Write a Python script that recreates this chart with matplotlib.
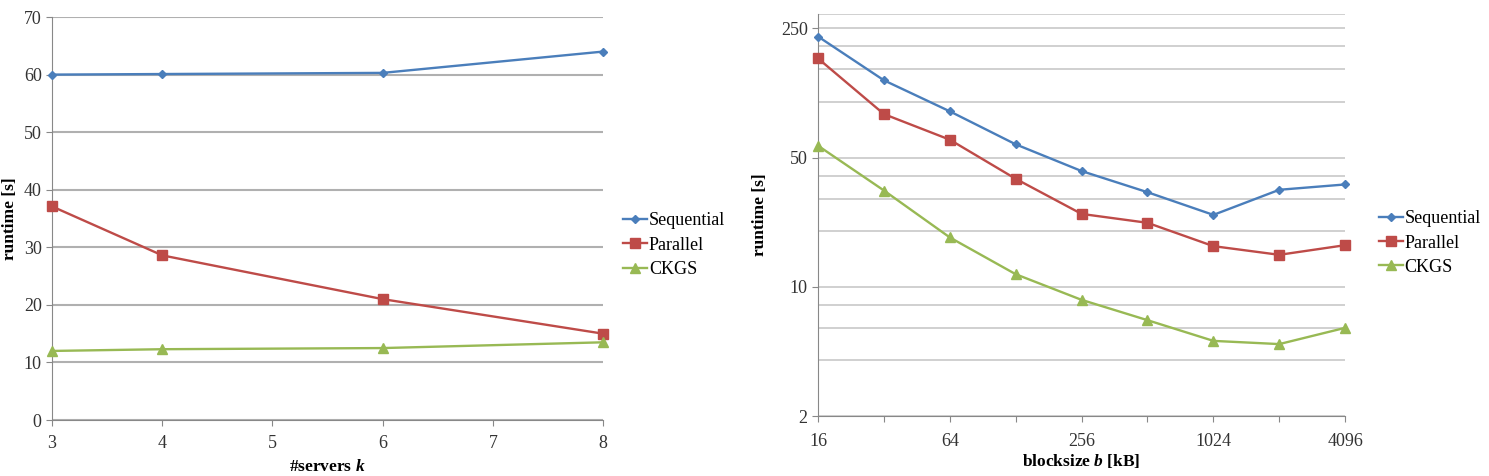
import matplotlib
matplotlib.use('Agg')
import matplotlib.pyplot as plt
from matplotlib.ticker import FixedLocator, FixedFormatter, NullFormatter

plt.rcParams['font.family'] = ['Liberation Serif', 'DejaVu Serif']
plt.rcParams['mathtext.fontset'] = 'custom'
plt.rcParams['mathtext.bfit'] = 'Liberation Serif:bold:italic'

# left chart: runtime vs number of servers
servers = [3, 4, 6, 8]
seq_k = [60.0, 60.1, 60.3, 64.0]
par_k = [37.1, 28.6, 21.0, 15.0]
ckgs_k = [12.0, 12.3, 12.5, 13.5]

# right chart: runtime vs blocksize (log scales)
blocks = [16, 32, 64, 128, 256, 512, 1024, 2048, 4096]
seq_b = [226, 131, 89, 59, 42.3, 32.5, 24.5, 33.5, 35.8]
par_b = [172, 86, 62.5, 38.4, 24.8, 22.2, 16.6, 14.9, 16.8]
ckgs_b = [58, 33.2, 18.5, 11.7, 8.5, 6.6, 5.1, 4.9, 6.0]

names = ['Sequential', 'Parallel', 'CKGS']
colors = ['#4A7EBB', '#BE4B48', '#98B954']
markers = ['D', 's', '^']
msizes = [4.5, 6.5, 6.5]

axis_col = '#888888'
fs = 13

fig = plt.figure(figsize=(14.89, 4.76), dpi=100)
ax1 = fig.add_axes([0.035, 0.1176, 0.37, 0.8466])
ax2 = fig.add_axes([0.5494, 0.126, 0.354, 0.845])

for ys, c, m, ms, n in zip([seq_k, par_k, ckgs_k], colors, markers, msizes, names):
    ax1.plot(servers, ys, color=c, marker=m, markersize=ms, lw=1.7, label=n, clip_on=False, zorder=3)

ax1.set_xlim(3, 8)
ax1.set_ylim(0, 70)
ax1.set_xticks([3, 4, 5, 6, 7, 8])
ax1.set_yticks(range(0, 71, 10))
ax1.yaxis.grid(True, color='#b0b0b0', lw=1.5)
ax1.set_axisbelow(True)
for s in ['top', 'right']:
    ax1.spines[s].set_visible(False)
for s in ['left', 'bottom']:
    ax1.spines[s].set_color(axis_col)
ax1.tick_params(colors=axis_col, labelcolor='#333333', labelsize=fs, length=4, direction='out')
ax1.tick_params(axis='x', pad=7)
ax1.set_ylabel('runtime [s]', fontweight='bold', fontsize=12.5, labelpad=4)
ax1.set_xlabel('#servers $\\mathbfit{k}$', fontweight='bold', fontsize=12.5, labelpad=5)
ax1.legend(loc='center left', bbox_to_anchor=(1.024, 0.434), borderaxespad=0, frameon=False,
           fontsize=fs, handlelength=1.3, handletextpad=0.1, labelspacing=0.4)

for ys, c, m, ms, n in zip([seq_b, par_b, ckgs_b], colors, markers, msizes, names):
    ax2.plot(blocks, ys, color=c, marker=m, markersize=ms, lw=1.7, label=n, clip_on=False, zorder=3)

ax2.set_xscale('log', base=2)
ax2.set_yscale('log', base=5)
ax2.set_xlim(16, 4096)
ax2.set_ylim(2, 300)
ax2.xaxis.set_major_locator(FixedLocator(blocks))
ax2.xaxis.set_major_formatter(FixedFormatter(['16', '', '64', '', '256', '', '1024', '', '4096']))
ax2.xaxis.set_minor_locator(FixedLocator([]))
ax2.yaxis.set_major_locator(FixedLocator([2, 10, 50, 250]))
ax2.yaxis.set_major_formatter(FixedFormatter(['2', '10', '50', '250']))
ax2.yaxis.set_minor_locator(FixedLocator([4, 6, 8, 20, 30, 40, 100, 150, 200, 300]))
ax2.yaxis.set_minor_formatter(NullFormatter())
ax2.yaxis.grid(True, which='both', color='#c8c8c8', lw=1.2)
ax2.set_axisbelow(True)
for s in ['top', 'right']:
    ax2.spines[s].set_visible(False)
for s in ['left', 'bottom']:
    ax2.spines[s].set_color(axis_col)
ax2.tick_params(which='both', colors=axis_col, labelcolor='#333333', labelsize=fs, direction='out')
ax2.tick_params(which='major', length=4)
ax2.tick_params(axis='x', pad=8)
ax2.tick_params(axis='y', which='minor', length=0)
ax2.set_ylabel('runtime [s]', fontweight='bold', fontsize=12.5, labelpad=9)
ax2.set_xlabel('blocksize $\\mathbfit{b}$ [kB]', fontweight='bold', fontsize=12.5, labelpad=2)
ax2.legend(loc='center left', bbox_to_anchor=(1.051, 0.43), borderaxespad=0, frameon=False,
           fontsize=fs, handlelength=1.3, handletextpad=0.1, labelspacing=0.4)

fig.savefig('out.png', dpi=100)
